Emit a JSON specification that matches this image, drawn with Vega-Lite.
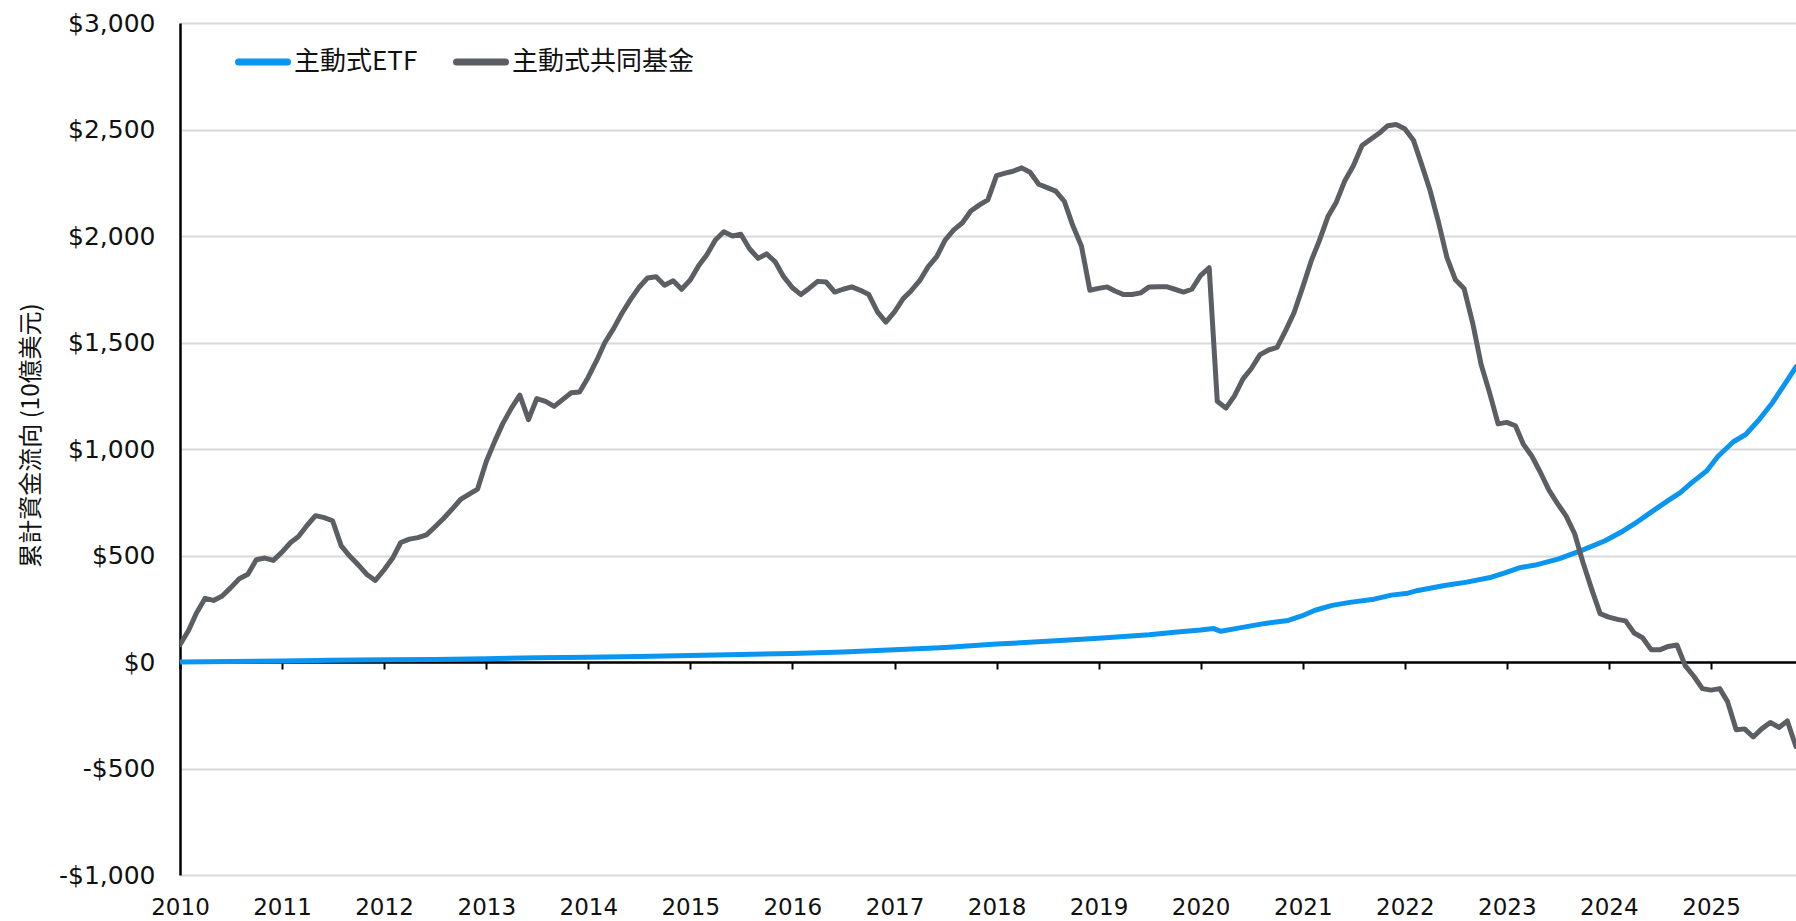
{
  "$schema": "https://vega.github.io/schema/vega-lite/v6.json",
  "width": 1616,
  "height": 852,
  "autosize": {"type": "none"},
  "padding": {"left": 180, "top": 23, "right": 0, "bottom": 46},
  "background": "white",
  "config": {"view": {"stroke": null}, "font": "DejaVu Sans"},
  "datasets": {
    "mf": [
      {"d":"2010-01-01","v":81},{"d":"2010-02-01","v":149},{"d":"2010-03-01","v":230},{"d":"2010-04-01","v":299},{"d":"2010-05-01","v":289},{"d":"2010-06-01","v":310},{"d":"2010-07-01","v":348},{"d":"2010-08-01","v":391},{"d":"2010-09-01","v":412},{"d":"2010-10-01","v":480},{"d":"2010-11-01","v":488},{"d":"2010-12-01","v":477},
      {"d":"2011-01-01","v":516},{"d":"2011-02-01","v":561},{"d":"2011-03-01","v":589},{"d":"2011-04-01","v":642},{"d":"2011-05-01","v":687},{"d":"2011-06-01","v":678},{"d":"2011-07-01","v":663},{"d":"2011-08-01","v":545},{"d":"2011-09-01","v":496},{"d":"2011-10-01","v":456},{"d":"2011-11-01","v":411},{"d":"2011-12-01","v":383},
      {"d":"2012-01-01","v":432},{"d":"2012-02-01","v":488},{"d":"2012-03-01","v":561},{"d":"2012-04-01","v":577},{"d":"2012-05-01","v":584},{"d":"2012-06-01","v":597},{"d":"2012-07-01","v":634},{"d":"2012-08-01","v":674},{"d":"2012-09-01","v":718},{"d":"2012-10-01","v":763},{"d":"2012-11-01","v":788},{"d":"2012-12-01","v":812},
      {"d":"2013-01-01","v":941},{"d":"2013-02-01","v":1038},{"d":"2013-03-01","v":1119},{"d":"2013-04-01","v":1192},{"d":"2013-05-01","v":1253},{"d":"2013-06-01","v":1138},{"d":"2013-07-01","v":1237},{"d":"2013-08-01","v":1224},{"d":"2013-09-01","v":1200},{"d":"2013-10-01","v":1232},{"d":"2013-11-01","v":1264},{"d":"2013-12-01","v":1268},
      {"d":"2014-01-01","v":1337},{"d":"2014-02-01","v":1418},{"d":"2014-03-01","v":1499},{"d":"2014-04-01","v":1564},{"d":"2014-05-01","v":1636},{"d":"2014-06-01","v":1701},{"d":"2014-07-01","v":1758},{"d":"2014-08-01","v":1803},{"d":"2014-09-01","v":1809},{"d":"2014-10-01","v":1769},{"d":"2014-11-01","v":1790},{"d":"2014-12-01","v":1750},
      {"d":"2015-01-01","v":1793},{"d":"2015-02-01","v":1863},{"d":"2015-03-01","v":1911},{"d":"2015-04-01","v":1981},{"d":"2015-05-01","v":2020},{"d":"2015-06-01","v":2000},{"d":"2015-07-01","v":2008},{"d":"2015-08-01","v":1940},{"d":"2015-09-01","v":1895},{"d":"2015-10-01","v":1916},{"d":"2015-11-01","v":1879},{"d":"2015-12-01","v":1809},
      {"d":"2016-01-01","v":1758},{"d":"2016-02-01","v":1725},{"d":"2016-03-01","v":1754},{"d":"2016-04-01","v":1787},{"d":"2016-05-01","v":1784},{"d":"2016-06-01","v":1737},{"d":"2016-07-01","v":1750},{"d":"2016-08-01","v":1761},{"d":"2016-09-01","v":1745},{"d":"2016-10-01","v":1725},{"d":"2016-11-01","v":1644},{"d":"2016-12-01","v":1596},
      {"d":"2017-01-01","v":1644},{"d":"2017-02-01","v":1706},{"d":"2017-03-01","v":1742},{"d":"2017-04-01","v":1790},{"d":"2017-05-01","v":1855},{"d":"2017-06-01","v":1903},{"d":"2017-07-01","v":1981},{"d":"2017-08-01","v":2029},{"d":"2017-09-01","v":2062},{"d":"2017-10-01","v":2117},{"d":"2017-11-01","v":2146},{"d":"2017-12-01","v":2170},
      {"d":"2018-01-01","v":2283},{"d":"2018-02-01","v":2295},{"d":"2018-03-01","v":2304},{"d":"2018-04-01","v":2320},{"d":"2018-05-01","v":2299},{"d":"2018-06-01","v":2243},{"d":"2018-07-01","v":2227},{"d":"2018-08-01","v":2211},{"d":"2018-09-01","v":2162},{"d":"2018-10-01","v":2049},{"d":"2018-11-01","v":1952},{"d":"2018-12-01","v":1745},
      {"d":"2019-01-01","v":1754},{"d":"2019-02-01","v":1761},{"d":"2019-03-01","v":1742},{"d":"2019-04-01","v":1725},{"d":"2019-05-01","v":1725},{"d":"2019-06-01","v":1733},{"d":"2019-07-01","v":1761},{"d":"2019-08-01","v":1762},{"d":"2019-09-01","v":1762},{"d":"2019-10-01","v":1750},{"d":"2019-11-01","v":1737},{"d":"2019-12-01","v":1750},
      {"d":"2020-01-01","v":1814},{"d":"2020-02-01","v":1851},{"d":"2020-03-01","v":1224},{"d":"2020-04-01","v":1192},{"d":"2020-05-01","v":1248},{"d":"2020-06-01","v":1329},{"d":"2020-07-01","v":1378},{"d":"2020-08-01","v":1443},{"d":"2020-09-01","v":1465},{"d":"2020-10-01","v":1477},{"d":"2020-11-01","v":1557},{"d":"2020-12-01","v":1641},
      {"d":"2021-01-01","v":1761},{"d":"2021-02-01","v":1886},{"d":"2021-03-01","v":1977},{"d":"2021-04-01","v":2091},{"d":"2021-05-01","v":2159},{"d":"2021-06-01","v":2261},{"d":"2021-07-01","v":2330},{"d":"2021-08-01","v":2425},{"d":"2021-09-01","v":2454},{"d":"2021-10-01","v":2482},{"d":"2021-11-01","v":2518},{"d":"2021-12-01","v":2523},
      {"d":"2022-01-01","v":2504},{"d":"2022-02-01","v":2450},{"d":"2022-03-01","v":2341},{"d":"2022-04-01","v":2216},{"d":"2022-05-01","v":2068},{"d":"2022-06-01","v":1898},{"d":"2022-07-01","v":1795},{"d":"2022-08-01","v":1754},{"d":"2022-09-01","v":1591},{"d":"2022-10-01","v":1398},{"d":"2022-11-01","v":1261},{"d":"2022-12-01","v":1118},
      {"d":"2023-01-01","v":1125},{"d":"2023-02-01","v":1109},{"d":"2023-03-01","v":1023},{"d":"2023-04-01","v":966},{"d":"2023-05-01","v":891},{"d":"2023-06-01","v":807},{"d":"2023-07-01","v":745},{"d":"2023-08-01","v":686},{"d":"2023-09-01","v":602},{"d":"2023-10-01","v":466},{"d":"2023-11-01","v":341},{"d":"2023-12-01","v":227},
      {"d":"2024-01-01","v":211},{"d":"2024-02-01","v":200},{"d":"2024-03-01","v":193},{"d":"2024-04-01","v":136},{"d":"2024-05-01","v":114},{"d":"2024-06-01","v":57},{"d":"2024-07-01","v":57},{"d":"2024-08-01","v":73},{"d":"2024-09-01","v":80},{"d":"2024-10-01","v":-18},{"d":"2024-11-01","v":-68},{"d":"2024-12-01","v":-125},
      {"d":"2025-01-01","v":-132},{"d":"2025-02-01","v":-125},{"d":"2025-03-01","v":-186},{"d":"2025-04-01","v":-318},{"d":"2025-05-01","v":-314},{"d":"2025-06-01","v":-352},{"d":"2025-07-01","v":-314},{"d":"2025-08-01","v":-284},{"d":"2025-09-01","v":-307},{"d":"2025-10-01","v":-277},{"d":"2025-11-01","v":-398}
    ],
    "etf": [
      {"d":"2010-01-01","v":0},{"d":"2010-07-01","v":2},{"d":"2011-01-01","v":5},{"d":"2011-07-01","v":8},{"d":"2012-01-01","v":10},{"d":"2012-07-01","v":12},{"d":"2013-01-01","v":15},{"d":"2013-07-01","v":20},{"d":"2014-01-01","v":22},{"d":"2014-07-01","v":26},{"d":"2015-01-01","v":30},{"d":"2015-07-01","v":35},{"d":"2016-01-01","v":40},{"d":"2016-07-01","v":47},{"d":"2017-01-01","v":57},{"d":"2017-07-01","v":68},{"d":"2018-01-01","v":84},{"d":"2018-07-01","v":97},{"d":"2019-01-01","v":112},{"d":"2019-07-01","v":128},{"d":"2019-10-01","v":140},
      {"d":"2020-01-01","v":150},{"d":"2020-02-17","v":157},{"d":"2020-03-14","v":144},{"d":"2020-05-15","v":159},{"d":"2020-08-14","v":180},{"d":"2020-11-10","v":195},{"d":"2020-12-28","v":216},
      {"d":"2021-02-14","v":243},{"d":"2021-04-16","v":266},{"d":"2021-06-18","v":280},{"d":"2021-09-13","v":295},{"d":"2021-11-14","v":314},
      {"d":"2022-01-12","v":323},{"d":"2022-02-17","v":336},{"d":"2022-05-23","v":359},{"d":"2022-08-11","v":375},{"d":"2022-11-07","v":398},{"d":"2022-12-28","v":420},
      {"d":"2023-02-17","v":443},{"d":"2023-04-13","v":455},{"d":"2023-07-06","v":484},{"d":"2023-09-24","v":523},{"d":"2023-12-17","v":568},
      {"d":"2024-02-20","v":614},{"d":"2024-04-01","v":648},{"d":"2024-06-02","v":705},{"d":"2024-08-04","v":761},{"d":"2024-09-13","v":795},{"d":"2024-10-23","v":841},{"d":"2024-12-17","v":898},
      {"d":"2025-01-26","v":966},{"d":"2025-03-22","v":1034},{"d":"2025-05-05","v":1068},{"d":"2025-06-21","v":1136},{"d":"2025-08-08","v":1216},{"d":"2025-09-17","v":1295},{"d":"2025-11-01","v":1386}
    ]
  },
  "layer": [
    {
      "data": {"name": "etf"},
      "transform": [{"calculate": "'主動式ETF'", "as": "s"}],
      "mark": {"type": "line", "strokeWidth": 5, "strokeJoin": "round", "strokeCap": "round", "clip": true},
      "encoding": {
        "x": {"field": "d", "type": "temporal"},
        "y": {"field": "v", "type": "quantitative"},
        "color": {"field": "s", "type": "nominal"}
      }
    },
    {
      "data": {"name": "mf"},
      "transform": [{"calculate": "'主動式共同基金'", "as": "s"}],
      "mark": {"type": "line", "strokeWidth": 5, "strokeJoin": "round", "strokeCap": "round", "clip": true},
      "encoding": {
        "x": {"field": "d", "type": "temporal"},
        "y": {"field": "v", "type": "quantitative"},
        "color": {"field": "s", "type": "nominal"}
      }
    }
  ],
  "encoding": {
    "x": {
      "field": "d", "type": "temporal",
      "scale": {"type": "utc", "domain": [{"year": 2010, "month": 1, "date": 1, "utc": true}, {"year": 2025, "month": 11, "date": 1, "utc": true}]},
      "axis": {
        "title": null, "format": "%Y", "formatType": "utc",
        "tickCount": {"interval": "year", "step": 1},
        "offset": -213, "labelPadding": 227, "tickSize": 7, "tickWidth": 2, "tickColor": "#000",
        "domainColor": "#000", "domainWidth": 2.5, "grid": false,
        "labelFontSize": 23, "labelColor": "#111", "labelFont": "DejaVu Sans", "labelFlush": false
      }
    },
    "y": {
      "field": "v", "type": "quantitative",
      "scale": {"domain": [-1000, 3000], "nice": false},
      "axis": {
        "values": [-1000, -500, 0, 500, 1000, 1500, 2000, 2500, 3000],
        "labelExpr": "datum.value < 0 ? '-$' + format(-datum.value, ',') : '$' + format(datum.value, ',')",
        "ticks": false, "domainColor": "#000", "domainWidth": 2.5,
        "gridColor": "#d9d9d9", "gridWidth": 2,
        "labelPadding": 25, "labelFontSize": 25, "labelColor": "#111", "labelFont": "DejaVu Sans",
        "title": "累計資金流向 (10億美元)", "titleFont": "Noto Sans CJK TC", "titleFontSize": 24, "titleFontWeight": "normal", "titleColor": "#111",
        "titleX": -149, "titleY": 412, "titleAngle": 270, "titleAlign": "center", "titleBaseline": "middle"
      }
    },
    "color": {
      "field": "s", "type": "nominal",
      "scale": {"domain": ["主動式ETF", "主動式共同基金"], "range": ["#0A96F0", "#5B5F63"]},
      "legend": {
        "orient": "none", "legendX": 55, "legendY": 11, "direction": "horizontal", "title": null,
        "symbolType": "stroke", "symbolSize": 2401, "symbolStrokeWidth": 7,
        "labelFontSize": 26, "labelFont": "Noto Sans CJK TC", "labelColor": "#111",
        "labelOffset": 3, "columnPadding": 24, "padding": 0, "labelLimit": 400,
        "encode": {"symbols": {"update": {"strokeCap": {"value": "round"}}}}
      }
    }
  }
}
